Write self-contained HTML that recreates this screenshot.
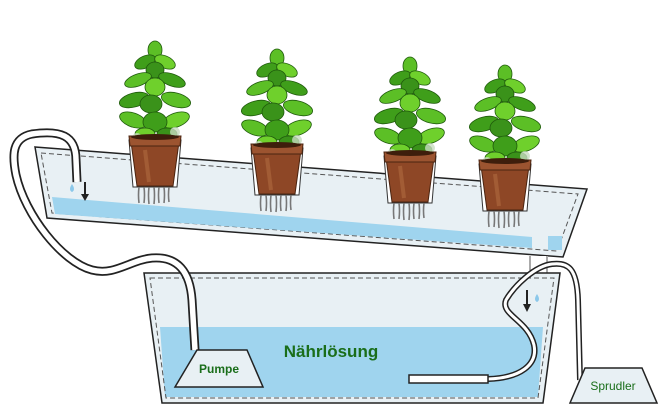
<!DOCTYPE html>
<html><head><meta charset="utf-8"><style>
html,body{margin:0;padding:0;background:#fff;}
svg{display:block;}
text{font-family:"Liberation Sans",sans-serif;}
</style></head><body>
<svg width="669" height="416" viewBox="0 0 669 416" xmlns="http://www.w3.org/2000/svg">
<defs>
<path id="lf" d="M0 0 C4 -3 10 -3 14 0 C10 3 4 3 0 0Z"/>
<g id="plant">
  <g stroke="#1f5a0c" stroke-width="0.8">
    <ellipse cx="0" cy="-92" rx="7" ry="9" fill="#5cbf26"/>
    <ellipse cx="-10" cy="-80" rx="11" ry="6" fill="#3f9e1a" transform="rotate(-25 -10 -80)"/>
    <ellipse cx="10" cy="-80" rx="11" ry="6" fill="#6fd02c" transform="rotate(25 10 -80)"/>
    <ellipse cx="0" cy="-72" rx="9" ry="8" fill="#3a921a"/>
    <ellipse cx="-17" cy="-62" rx="14" ry="6" fill="#5cbf26" transform="rotate(-20 -17 -62)"/>
    <ellipse cx="17" cy="-62" rx="14" ry="6" fill="#3f9e1a" transform="rotate(20 17 -62)"/>
    <ellipse cx="0" cy="-55" rx="10" ry="9" fill="#6fd02c"/>
    <ellipse cx="-21" cy="-42" rx="15" ry="7" fill="#3f9e1a" transform="rotate(-15 -21 -42)"/>
    <ellipse cx="21" cy="-42" rx="15" ry="7" fill="#5cbf26" transform="rotate(15 21 -42)"/>
    <ellipse cx="-4" cy="-38" rx="11" ry="9" fill="#3a921a"/>
    <ellipse cx="-22" cy="-22" rx="14" ry="7" fill="#5cbf26" transform="rotate(20 -22 -22)"/>
    <ellipse cx="21" cy="-22" rx="14" ry="7" fill="#6fd02c" transform="rotate(-20 21 -22)"/>
    <ellipse cx="0" cy="-20" rx="12" ry="10" fill="#3f9e1a"/>
    <ellipse cx="-10" cy="-8" rx="10" ry="6" fill="#6fd02c"/>
    <ellipse cx="12" cy="-8" rx="10" ry="6" fill="#3a921a"/>
  </g>
  <circle cx="-18" cy="-4" r="5" fill="#c8dcc0" opacity="0.8"/>
  <circle cx="20" cy="-10" r="5" fill="#c8dcc0" opacity="0.8"/>
  <path d="M-26 -2 L26 -2 L22 45 L-22 45 Z" fill="#fff" stroke="#333" stroke-width="1"/>
  <g stroke="#777" stroke-width="1.6" fill="none">
    <path d="M-16 45 q-1 8 0 16"/><path d="M-11 45 q1 8 0 16"/><path d="M-6 45 q-1 8 0 17"/>
    <path d="M-1 45 q1 8 0 17"/><path d="M4 45 q-1 8 0 16"/><path d="M9 45 q1 8 0 16"/><path d="M14 45 q-1 8 0 15"/>
  </g>
  <path d="M-24 0 L24 0 L18 44 L-18 44 Z" fill="#8e4726" stroke="#4a2410" stroke-width="1"/>
  <path d="M-26 -6 L26 -6 L25 4 L-25 4 Z" fill="#9c5430" stroke="#4a2410" stroke-width="1"/>
  <ellipse cx="0" cy="-5" rx="24" ry="3" fill="#3e1e0c"/>
  <path d="M-10 8 L-6 40" stroke="#b06a40" stroke-width="4" opacity="0.6"/>
</g>
</defs>

<polygon points="35,147 587,189 563,257 47,218" fill="#e8f0f4" stroke="#222" stroke-width="1.5"/>
<polygon points="41,153 578,194 557,251 52,213" fill="none" stroke="#555" stroke-width="1" stroke-dasharray="5,3"/>
<polygon points="52,197 532,237 532,248 55,214" fill="#9fd4ee"/>
<rect x="548" y="236" width="14" height="14" fill="#9fd4ee"/>
<rect x="530" y="256" width="18" height="18" fill="#fff"/>
<line x1="530" y1="256" x2="530" y2="273" stroke="#555" stroke-width="1"/>
<line x1="547" y1="256" x2="547" y2="273" stroke="#555" stroke-width="1"/>

<polygon points="144,273 560,273 543,403 162,403" fill="#e8f0f4" stroke="#222" stroke-width="1.5"/>
<polygon points="160,327 543,327 538,397 165,397" fill="#9fd4ee"/>
<polygon points="150,278 554,278 538,398 166,398" fill="none" stroke="#555" stroke-width="1" stroke-dasharray="5,3"/>

<use href="#plant" transform="translate(155,142)"/>
<use href="#plant" transform="translate(277,150)"/>
<use href="#plant" transform="translate(410,158)"/>
<use href="#plant" transform="translate(505,166)"/>

<path d="M77 182 L76 160 C76 135 60 130 32 134 C12 138 12 155 16 175 C25 215 62 262 92 270 C115 276 130 260 152 258 C178 256 190 272 192 300 L195 350" fill="none" stroke="#222" stroke-width="9"/>
<path d="M77 182 L76 160 C76 135 60 130 32 134 C12 138 12 155 16 175 C25 215 62 262 92 270 C115 276 130 260 152 258 C178 256 190 272 192 300 L195 350" fill="none" stroke="#fff" stroke-width="5.5"/>

<polygon points="197,350 247,350 263,387 175,387" fill="#e8f0f4" stroke="#222" stroke-width="1.5"/>
<text x="219" y="373" font-size="12" font-weight="bold" fill="#1a6e1a" text-anchor="middle">Pumpe</text>

<text x="331" y="357" font-size="17" font-weight="bold" fill="#1a6e1a" text-anchor="middle">Nährlösung</text>

<path d="M580 380 L578 300 C577 268 568 262 552 264 C535 266 515 285 506 300 C500 315 528 320 534 345 C538 365 520 378 488 379" fill="none" stroke="#222" stroke-width="6"/>
<path d="M580 380 L578 300 C577 268 568 262 552 264 C535 266 515 285 506 300 C500 315 528 320 534 345 C538 365 520 378 488 379" fill="none" stroke="#fff" stroke-width="3"/>
<rect x="409" y="375" width="79" height="8" fill="#fff" stroke="#222" stroke-width="1.5"/>

<polygon points="585,368 642,368 657,403 570,403" fill="#e8f0f4" stroke="#222" stroke-width="1.5"/>
<text x="613" y="390" font-size="12" fill="#1a6e1a" text-anchor="middle">Sprudler</text>

<path d="M72 184 q-4 6 0 8 q4 -2 0 -8z" fill="#8cc8ea"/>
<path d="M85 182 L85 196" stroke="#222" stroke-width="2"/>
<path d="M81 194 L85 201 L89 194 Z" fill="#222"/>
<path d="M537 294 q-4 6 0 8 q4 -2 0 -8z" fill="#8cc8ea"/>
<path d="M527 290 L527 306" stroke="#222" stroke-width="2"/>
<path d="M523 304 L527 312 L531 304 Z" fill="#222"/>
</svg>
</body></html>
